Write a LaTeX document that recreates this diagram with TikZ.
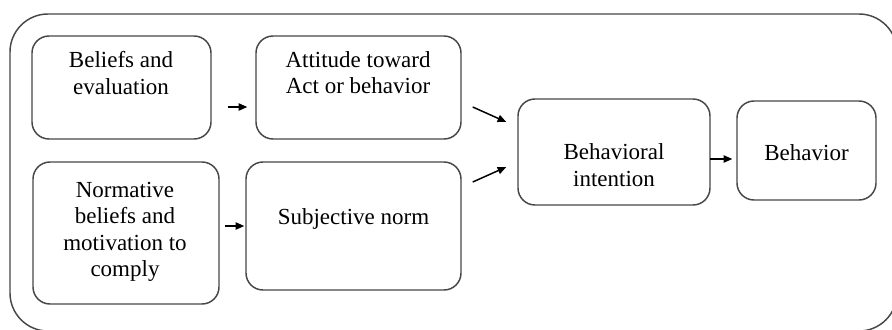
\documentclass[tikz,border=0pt]{standalone}
\usepackage{fontspec}
\setmainfont{Liberation Serif}
\usetikzlibrary{arrows.meta,calc}

\begin{document}
\begin{tikzpicture}[x=0.75pt,y=0.75pt,yscale=-1,xscale=1,
  box/.style={draw=black!72,line width=1.1pt,rounded corners=12.75pt,inner sep=0pt},
  lbl/.style={anchor=north,inner sep=0pt,align=center,font=\fontsize{17.25}{19.9}\selectfont},
  arr/.style={line width=1.1pt,-{Triangle[length=6.5pt,width=5.5pt]}}]
\useasboundingbox (0,0) rectangle (892,329);
\clip (0,0) rectangle (892,329);

%Shape: Outer frame
\draw [draw=black!72,line width=1.1pt,rounded corners=28.5pt] (10,14) rectangle (897,331);

%Shape: Boxes
\node [box,minimum width=134.25pt,minimum height=77.25pt] (b1) at (121.5,87.5) {};
\node [box,minimum width=153.75pt,minimum height=77.25pt] (b2) at (358.5,87.5) {};
\node [box,minimum width=139.5pt,minimum height=106.5pt] (b3) at (126,233) {};
\node [box,minimum width=161.25pt,minimum height=96pt] (b4) at (353.5,226) {};
\node [box,minimum width=144pt,minimum height=79.5pt] (b5) at (614,152) {};
\node [box,minimum width=104.25pt,minimum height=74.25pt] (b6) at (806.5,150.5) {};

% Text Node
\node [lbl] (t1) at (121,51.5) {Beliefs and\\evaluation};
% Text Node
\node [lbl] (t2) at (358,51) {Attitude toward\\Act or behavior};
% Text Node
\node [lbl] (t3) at (125,181.5) {Normative\\beliefs and\\motivation to\\comply};
% Text Node
\node [lbl] (t4) at (353.5,208.5) {Subjective norm};
% Text Node
\node [lbl] (t5) at (614,143.5) {Behavioral\\intention};
% Text Node
\node [lbl] (t6) at (806.5,144.5) {Behavior};

%Straight Lines
\draw [arr] ($(b1.east)+(16,19.5)$) -- ($(b2.west)+(-8,19.5)$);
\draw [arr] ($(b3.east)+(5,-7)$) -- ($(b4.west)+(-1,0)$);
\draw [arr] ($(b2.east)+(11,19.5)$) -- ($(b5.west)+(-11,-30)$);
\draw [arr] ($(b4.east)+(11,-44)$) -- ($(b5.west)+(-11,15)$);
\draw [arr] ($(b5.east)+(-1,7)$) -- ($(b6.west)+(-4,8.5)$);

\end{tikzpicture}
\end{document}
